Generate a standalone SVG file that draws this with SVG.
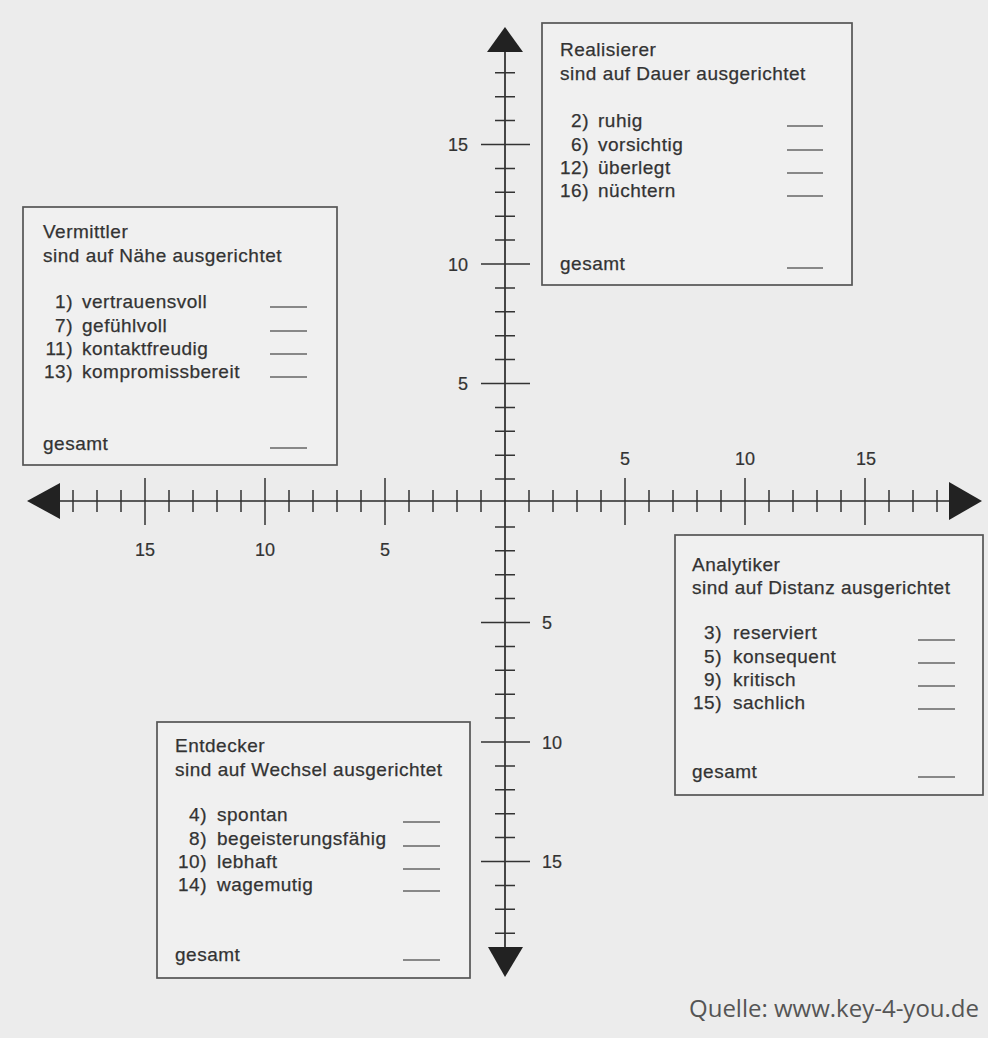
<svg xmlns="http://www.w3.org/2000/svg" width="988" height="1038" viewBox="0 0 988 1038">
<style>
.bg{fill:#ececec}
.box{fill:#f0f0f0;stroke:#555;stroke-width:1.7}
.t{font-family:"Liberation Sans",Arial,Helvetica,sans-serif;font-size:19px;letter-spacing:0.5px;fill:#333;stroke:#333;stroke-width:0.25}
.n{text-anchor:end}
.blank{stroke:#666;stroke-width:1.4}
.ax{stroke:#2a2a2a;stroke-width:1.7;fill:none}
.tk{stroke:#333;stroke-width:1.5;fill:none}
.head{fill:#222}
.al{font-family:"Liberation Sans",Arial,Helvetica,sans-serif;font-size:18px;fill:#333;stroke:#333;stroke-width:0.2}
.src{font-family:"Open Sans","Noto Sans",sans-serif;font-size:24px;fill:#555}
</style>
<rect class="bg" x="0" y="0" width="988" height="1038"/>

<g id="axes">
  <line class="ax" x1="55" y1="501" x2="952" y2="501"/>
  <line class="ax" x1="505" y1="48" x2="505" y2="952"/>
  <path class="tk" d="M481 490V512M457 490V512M433 490V512M409 490V512M361 490V512M337 490V512M313 490V512M289 490V512M241 490V512M217 490V512M193 490V512M169 490V512M121 490V512M97 490V512M73 490V512M529 490V512M553 490V512M577 490V512M601 490V512M649 490V512M673 490V512M697 490V512M721 490V512M769 490V512M793 490V512M817 490V512M841 490V512M889 490V512M913 490V512M937 490V512"/>
  <path class="tk" d="M385 478V525M265 478V525M145 478V525M625 478V525M745 478V525M865 478V525"/>
  <path class="tk" d="M495 479.1H515M495 455.2H515M495 431.3H515M495 407.4H515M495 359.6H515M495 335.7H515M495 311.8H515M495 287.9H515M495 240.1H515M495 216.2H515M495 192.3H515M495 168.4H515M495 120.6H515M495 96.7H515M495 72.8H515M495 526.9H515M495 550.8H515M495 574.7H515M495 598.6H515M495 646.4H515M495 670.3H515M495 694.2H515M495 718.1H515M495 765.9H515M495 789.8H515M495 813.7H515M495 837.6H515M495 885.4H515M495 909.3H515M495 933.2H515"/>
  <path class="tk" d="M481 383.5H530M481 264H530M481 144.5H530M481 622.5H530M481 742H530M481 861.5H530"/>
  <polygon class="head" points="27,501 60,483 60,519"/>
  <polygon class="head" points="982,501 949,482 949,520"/>
  <polygon class="head" points="505,27 487,52 523,52"/>
  <polygon class="head" points="505,977 488,947 523,947"/>
  <text class="al" x="468" y="151" text-anchor="end">15</text>
  <text class="al" x="468" y="270.5" text-anchor="end">10</text>
  <text class="al" x="468" y="390" text-anchor="end">5</text>
  <text class="al" x="542" y="629">5</text>
  <text class="al" x="542" y="748.5">10</text>
  <text class="al" x="542" y="868">15</text>
  <text class="al" x="145" y="556" text-anchor="middle">15</text>
  <text class="al" x="265" y="556" text-anchor="middle">10</text>
  <text class="al" x="385" y="556" text-anchor="middle">5</text>
  <text class="al" x="625" y="465" text-anchor="middle">5</text>
  <text class="al" x="745" y="465" text-anchor="middle">10</text>
  <text class="al" x="866" y="465" text-anchor="middle">15</text>
</g>

<g id="realisierer">
  <rect class="box" x="542" y="23" width="310" height="262"/>
  <text class="t" x="560" y="56">Realisierer</text>
  <text class="t" x="560" y="80">sind auf Dauer ausgerichtet</text>
  <text class="t n" x="589" y="127">2)</text><text class="t" x="598" y="127">ruhig</text>
  <text class="t n" x="589" y="151">6)</text><text class="t" x="598" y="151">vorsichtig</text>
  <text class="t n" x="589" y="174">12)</text><text class="t" x="598" y="174">überlegt</text>
  <text class="t n" x="589" y="197">16)</text><text class="t" x="598" y="197">nüchtern</text>
  <text class="t" x="560" y="270">gesamt</text>
  <path class="blank" d="M787 126H823M787 150H823M787 173H823M787 196H823M787 268H823"/>
</g>

<g id="vermittler">
  <rect class="box" x="23" y="207" width="314" height="258"/>
  <text class="t" x="43" y="238">Vermittler</text>
  <text class="t" x="43" y="262">sind auf Nähe ausgerichtet</text>
  <text class="t n" x="73" y="308">1)</text><text class="t" x="82" y="308">vertrauensvoll</text>
  <text class="t n" x="73" y="332">7)</text><text class="t" x="82" y="332">gefühlvoll</text>
  <text class="t n" x="73" y="355">11)</text><text class="t" x="82" y="355">kontaktfreudig</text>
  <text class="t n" x="73" y="378">13)</text><text class="t" x="82" y="378">kompromissbereit</text>
  <text class="t" x="43" y="450">gesamt</text>
  <path class="blank" d="M270 307H307M270 331H307M270 354H307M270 377H307M270 448H307"/>
</g>

<g id="analytiker">
  <rect class="box" x="675" y="535" width="308" height="260"/>
  <text class="t" x="692" y="571">Analytiker</text>
  <text class="t" x="692" y="594">sind auf Distanz ausgerichtet</text>
  <text class="t n" x="722" y="639">3)</text><text class="t" x="733" y="639">reserviert</text>
  <text class="t n" x="722" y="663">5)</text><text class="t" x="733" y="663">konsequent</text>
  <text class="t n" x="722" y="686">9)</text><text class="t" x="733" y="686">kritisch</text>
  <text class="t n" x="722" y="709">15)</text><text class="t" x="733" y="709">sachlich</text>
  <text class="t" x="692" y="778">gesamt</text>
  <path class="blank" d="M918 640H955M918 663H955M918 686H955M918 709H955M918 777H955"/>
</g>

<g id="entdecker">
  <rect class="box" x="157" y="722" width="313" height="256"/>
  <text class="t" x="175" y="752">Entdecker</text>
  <text class="t" x="175" y="776">sind auf Wechsel ausgerichtet</text>
  <text class="t n" x="207" y="821">4)</text><text class="t" x="217" y="821">spontan</text>
  <text class="t n" x="207" y="845">8)</text><text class="t" x="217" y="845">begeisterungsfähig</text>
  <text class="t n" x="207" y="868">10)</text><text class="t" x="217" y="868">lebhaft</text>
  <text class="t n" x="207" y="891">14)</text><text class="t" x="217" y="891">wagemutig</text>
  <text class="t" x="175" y="961">gesamt</text>
  <path class="blank" d="M403 822H440M403 846H440M403 869H440M403 891H440M403 960H440"/>
</g>

<text class="src" x="689" y="1017">Quelle: www.key-4-you.de</text>
</svg>
